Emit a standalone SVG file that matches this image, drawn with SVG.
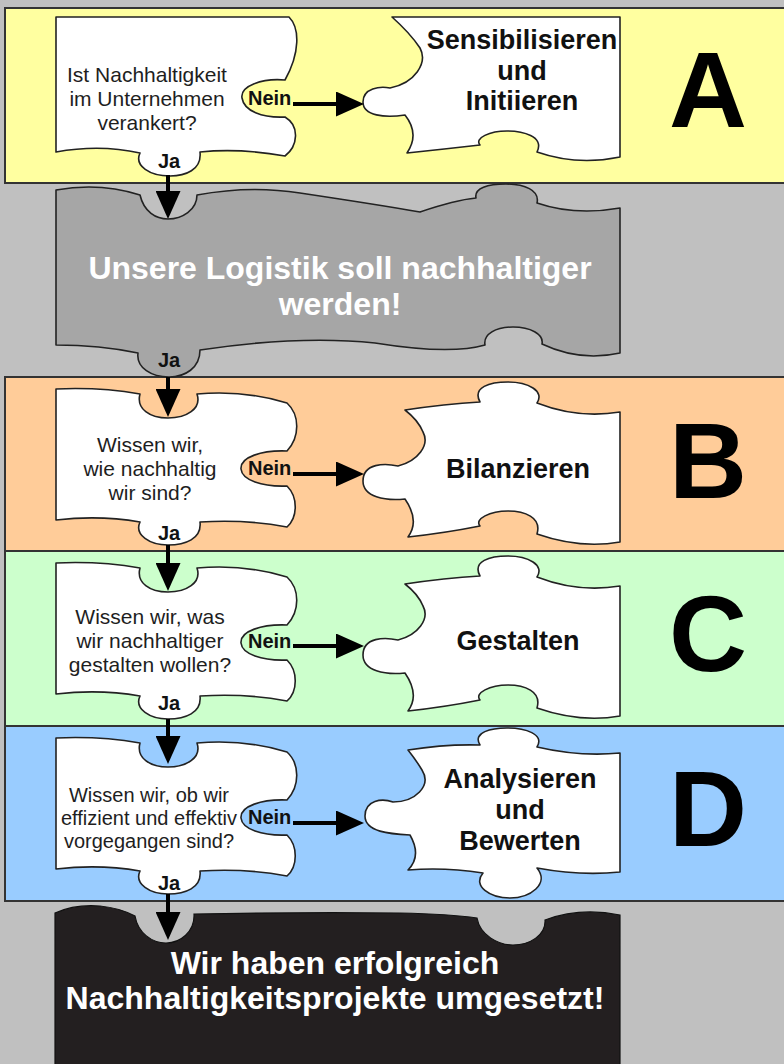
<svg xmlns="http://www.w3.org/2000/svg" width="784" height="1064" viewBox="0 0 784 1064">
  <defs>
    <style>
      .band{stroke:#333;stroke-width:2}
      .piece{fill:#fff;stroke:#222;stroke-width:1.6;stroke-linejoin:round}
      .txt{font-family:"Liberation Sans",Arial,Helvetica,sans-serif}
      .q{font-size:21px;fill:#1e1e1e;text-anchor:middle}
      .qd{font-size:20px}
      .lbl{font-size:20px;font-weight:bold;fill:#111}
      .mid{text-anchor:middle}
      .ans{font-size:27px;font-weight:bold;fill:#111;text-anchor:middle}
      .big{font-size:108px;font-weight:bold;fill:#000;text-anchor:middle}
      .banner{font-size:32px;font-weight:bold;fill:#fff;text-anchor:middle}
      .conn{stroke:#000;stroke-width:4;fill:none;marker-end:url(#head)}
    </style>
    <marker id="head" markerUnits="userSpaceOnUse" markerWidth="28" markerHeight="25" viewBox="0 0 28 25" refX="0" refY="12.5" orient="auto">
      <path d="M0,0 L28,12.5 L0,25 Z" fill="#000"/>
    </marker>
    <!-- question piece with a socket on top (bands B, C, D) -->
    <path id="qpiece" d="M 56,12 Q 100,10 140,17 C 136,32 150,41 168,41 C 186,41 202,32 197,17 Q 245,13 287,26 C 300,38 300,60 287,74 C 262,73 240,80 241,92 C 242,103 262,110 287,109 C 298,120 298,140 287,150 Q 245,142 200,145 C 202,162 185,168 168,168 C 150,168 134,158 140,145 Q 100,138 56,143 Z"/>
    <!-- answer piece with knob on top and socket below (bands B, C) -->
    <path id="apiece" d="M 405,33 Q 445,27 480,25 C 472,10 490,5 508,5 C 528,5 545,14 537,26 Q 578,42 620,35 L 620,165 Q 580,172 537,157 C 542,140 524,134 508,134 C 490,134 474,142 480,149 Q 445,156 408,160 Q 420,144 405,122 C 385,124 363,120 363,104 C 363,86 385,86 398,89 C 418,84 430,68 423,55 Q 418,43 405,33 Z"/>
  </defs>

  <rect x="0" y="0" width="784" height="1064" fill="#c0c0c0"/>

  <g id="bands">
    <rect class="band" x="5" y="8" width="790" height="175" fill="#ffffa0"/>
    <rect class="band" x="5" y="377" width="790" height="174" fill="#ffcc99"/>
    <rect class="band" x="5" y="551" width="790" height="175" fill="#ccffcc"/>
    <rect class="band" x="5" y="726" width="790" height="175" fill="#99ccff"/>
  </g>

  <!-- Band A -->
  <g id="question-a" transform="translate(0,8)">
    <path class="piece" d="M 56,9 L 289,9 C 300,20 300,45 285,72 C 262,70 240,78 242,90 C 244,103 262,110 285,109 C 300,118 298,138 285,148 Q 240,140 200,144 C 202,162 185,168 170,168 C 150,168 134,158 140,145 Q 100,136 56,144 Z"/>
    <text class="txt q" x="147" y="74">Ist Nachhaltigkeit</text>
    <text class="txt q" x="147" y="98">im Unternehmen</text>
    <text class="txt q" x="147" y="122">verankert?</text>
    <text class="txt lbl" x="248" y="97">Nein</text>
    <text class="txt lbl mid" x="169" y="160">Ja</text>
  </g>
  <g id="action-a" transform="translate(0,8)">
    <path class="piece" d="M 392,9 L 620,9 L 620,149 Q 577,158 537,144 C 545,128 522,123 507,123 C 490,123 474,130 480,137 Q 445,141 407,145 Q 420,126 405,107 C 385,110 363,108 363,94 C 363,80 380,78 390,80 C 415,75 428,55 420,40 Q 410,25 392,9 Z"/>
    <text class="txt ans" x="522" y="41">Sensibilisieren</text>
    <text class="txt ans" x="522" y="72">und</text>
    <text class="txt ans" x="522" y="102">Initiieren</text>
  </g>
  <text id="label-a" class="txt big" x="708" y="127">A</text>

  <!-- Starting point -->
  <g id="goal">
    <path d="M 56,190 Q 100,182 140,195 C 144,212 156,219 168,219 C 182,219 197,210 197,195 Q 250,185 300,193 Q 380,205 420,212 Q 455,200 476,198 C 474,188 488,184 506,184 C 524,184 540,190 537,203 Q 575,216 620,208 L 620,353 Q 580,362 542,344 C 544,334 530,327 513,327 C 496,327 483,334 485,345 Q 450,355 375,343 Q 300,335 200,350 C 200,368 185,377 169,377 C 152,377 136,368 138,353 Q 100,345 56,345 Z" fill="#a6a6a6" stroke="#222" stroke-width="1.6" stroke-linejoin="round"/>
    <text class="txt banner" x="340" y="279">Unsere Logistik soll nachhaltiger</text>
    <text class="txt banner" x="340" y="315">werden!</text>
    <text class="txt lbl mid" x="169" y="367">Ja</text>
  </g>

  <!-- Band B -->
  <g id="question-b" transform="translate(0,377)">
    <use href="#qpiece" class="piece"/>
    <text class="txt q" x="150" y="75">Wissen wir,</text>
    <text class="txt q" x="150" y="99">wie nachhaltig</text>
    <text class="txt q" x="150" y="123">wir sind?</text>
    <text class="txt lbl" x="248" y="98">Nein</text>
    <text class="txt lbl mid" x="169" y="163">Ja</text>
  </g>
  <g id="action-b" transform="translate(0,377)">
    <use href="#apiece" class="piece"/>
    <text class="txt ans" x="518" y="101">Bilanzieren</text>
  </g>
  <text id="label-b" class="txt big" x="708" y="498">B</text>

  <!-- Band C -->
  <g id="question-c" transform="translate(0,551)">
    <use href="#qpiece" class="piece"/>
    <text class="txt q" x="150" y="73">Wissen wir, was</text>
    <text class="txt q" x="150" y="97">wir nachhaltiger</text>
    <text class="txt q" x="150" y="121">gestalten wollen?</text>
    <text class="txt lbl" x="248" y="97">Nein</text>
    <text class="txt lbl mid" x="169" y="159">Ja</text>
  </g>
  <g id="action-c" transform="translate(0,551)">
    <use href="#apiece" class="piece"/>
    <text class="txt ans" x="518" y="99">Gestalten</text>
  </g>
  <text id="label-c" class="txt big" x="708" y="671">C</text>

  <!-- Band D -->
  <g id="question-d" transform="translate(0,726)">
    <use href="#qpiece" class="piece"/>
    <text class="txt q qd" x="149" y="76">Wissen wir, ob wir</text>
    <text class="txt q qd" x="149" y="99">effizient und effektiv</text>
    <text class="txt q qd" x="149" y="122">vorgegangen sind?</text>
    <text class="txt lbl" x="248" y="98">Nein</text>
    <text class="txt lbl mid" x="169" y="164">Ja</text>
  </g>
  <g id="action-d" transform="translate(0,726)">
    <path class="piece" d="M 408,24 Q 445,18 480,19 C 472,6 492,2 507,2 C 525,2 545,8 537,21 Q 580,31 620,27 L 620,146 Q 580,150 537,142 C 550,158 530,172 510,172 C 490,172 472,160 483,147 Q 445,141 408,144 Q 422,130 410,109 C 390,108 365,106 365,90 C 365,74 382,72 393,76 C 415,76 432,60 422,44 Q 416,34 408,24 Z"/>
    <text class="txt ans" x="520" y="62">Analysieren</text>
    <text class="txt ans" x="520" y="93">und</text>
    <text class="txt ans" x="520" y="124">Bewerten</text>
  </g>
  <text id="label-d" class="txt big" x="708" y="846">D</text>

  <!-- Final outcome -->
  <g id="outcome">
    <path d="M 55,1070 L 55,913 Q 75,904 100,906 Q 120,908 135,916 C 138,933 152,943 166,943 C 180,943 195,932 194,914 Q 300,912 400,913 Q 450,914 477,918 C 480,935 498,945 513,945 C 530,945 546,935 545,920 Q 580,907 620,915 L 620,1070 Z" fill="#231f20" stroke="#111" stroke-width="1.2"/>
    <text class="txt banner" x="335" y="974">Wir haben erfolgreich</text>
    <text class="txt banner" x="335" y="1009">Nachhaltigkeitsprojekte umgesetzt!</text>
  </g>

  <g id="connectors">
    <path class="conn" d="M168,175 V191"/>
    <path class="conn" d="M168,377 V389"/>
    <path class="conn" d="M168,545 V563"/>
    <path class="conn" d="M168,719 V736"/>
    <path class="conn" d="M168,894 V912"/>
    <path class="conn" d="M293,104 H336"/>
    <path class="conn" d="M293,474 H336"/>
    <path class="conn" d="M293,646 H336"/>
    <path class="conn" d="M293,823 H336"/>
  </g>
</svg>
